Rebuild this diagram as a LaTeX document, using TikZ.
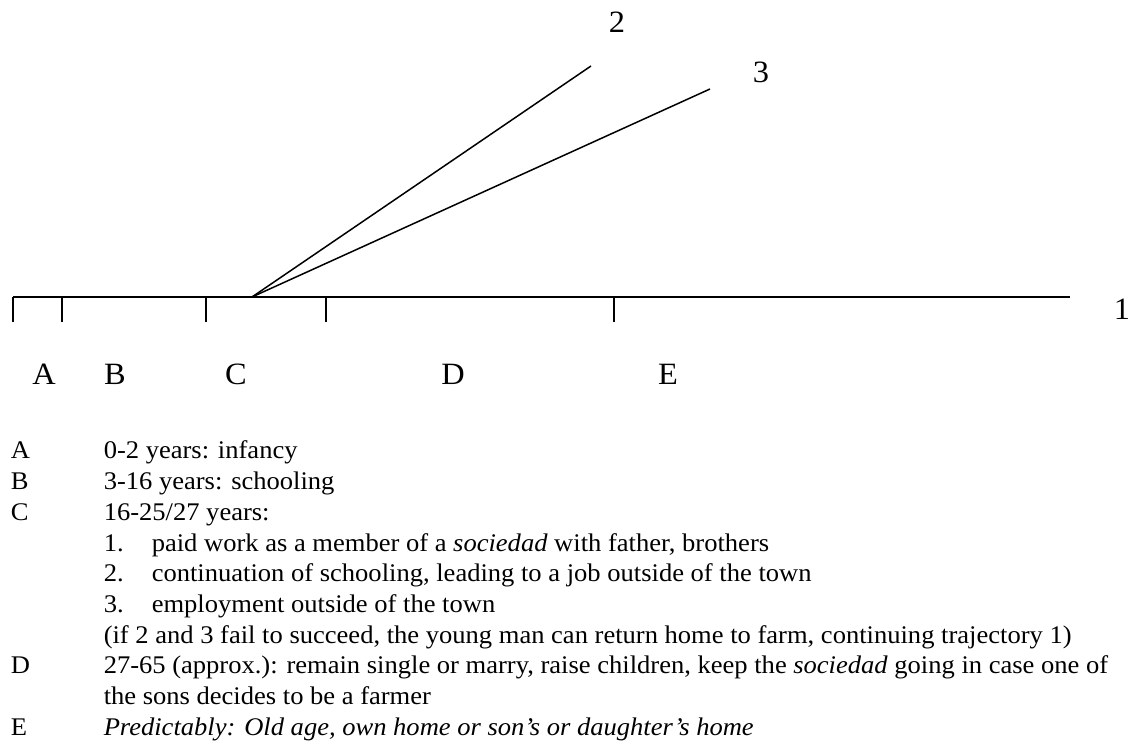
\documentclass[tikz,border=0pt]{standalone}
\usepackage{fontspec}
\setmainfont[FakeStretch=1.045]{Liberation Serif}
\usetikzlibrary{calc}

\tikzset{
	etiqueta/.style={inner sep=0pt, font=\fontsize{15.5}{19}\selectfont},
	texto/.style={anchor=base west, inner sep=0pt, font=\fontsize{12.7}{15}\selectfont},
}

\begin{document}
\begin{tikzpicture}[x=0.5pt, y=-0.5pt, line width=0.75pt]
	\useasboundingbox (0,0) rectangle (1132,743);

	% Trayectoria 1
	\coordinate (inicio) at (13,297);
	\coordinate (fin) at (1070,297);
	\draw (inicio) -- (fin);
	\node (uno) at (1122,309) [etiqueta] {1};

	% Marcas de las etapas
	\foreach \x/\n in {13/a,62/b,206/c,326/d,614/e} {
		\coordinate (m\n) at (\x,297);
		\draw (m\n) -- ++(0,25);
	}

	% Trayectorias 2 y 3
	\coordinate (O) at (252,297);
	\coordinate (T2) at (591,66);
	\coordinate (T3) at (710,89);
	\draw (O) -- (T2);
	\draw (O) -- (T3);
	\node (dos) at (617,22) [etiqueta] {2};
	\node (tres) at (761,72) [etiqueta] {3};

	% Etiquetas de las etapas
	\node (A) at (44,374) [etiqueta] {A};
	\node (B) at (115,374) [etiqueta] {B};
	\node (C) at (236,374) [etiqueta] {C};
	\node (D) at (453,374) [etiqueta] {D};
	\node (E) at (668,374) [etiqueta] {E};

	% Leyenda
	\node (la) at (10,459) [texto] {A};
	\node (ta) at (103,459) [texto] {0-2 years: infancy};
	\node (lb) at (10,489.7) [texto] {B};
	\node (tb) at (103,489.7) [texto] {3-16 years: schooling};
	\node (lc) at (10,520.4) [texto] {C};
	\node (tc) at (103,520.4) [texto] {16-25/27 years:};
	\node (n1) at (103,551.1) [texto] {1.};
	\node (t1) at (151,551.1) [texto] {paid work as a member of a \textit{sociedad} with father, brothers};
	\node (n2) at (103,581.8) [texto] {2.};
	\node (t2) at (151,581.8) [texto] {continuation of schooling, leading to a job outside of the town};
	\node (n3) at (103,612.5) [texto] {3.};
	\node (t3) at (151,612.5) [texto] {employment outside of the town};
	\node (si) at (103,643.2) [texto] {(if 2 and 3 fail to succeed, the young man can return home to farm, continuing trajectory 1)};
	\node (ld) at (10,673.9) [texto] {D};
	\node (td) at (103,673.9) [texto] {27-65 (approx.): remain single or marry, raise children, keep the \textit{sociedad} going in case one of};
	\node (td2) at (103,704.6) [texto] {the sons decides to be a farmer};
	\node (le) at (10,735.3) [texto] {E};
	\node (te) at (103,735.3) [texto] {\textit{Predictably: Old age, own home or son’s or daughter’s home}};
\end{tikzpicture}
\end{document}
